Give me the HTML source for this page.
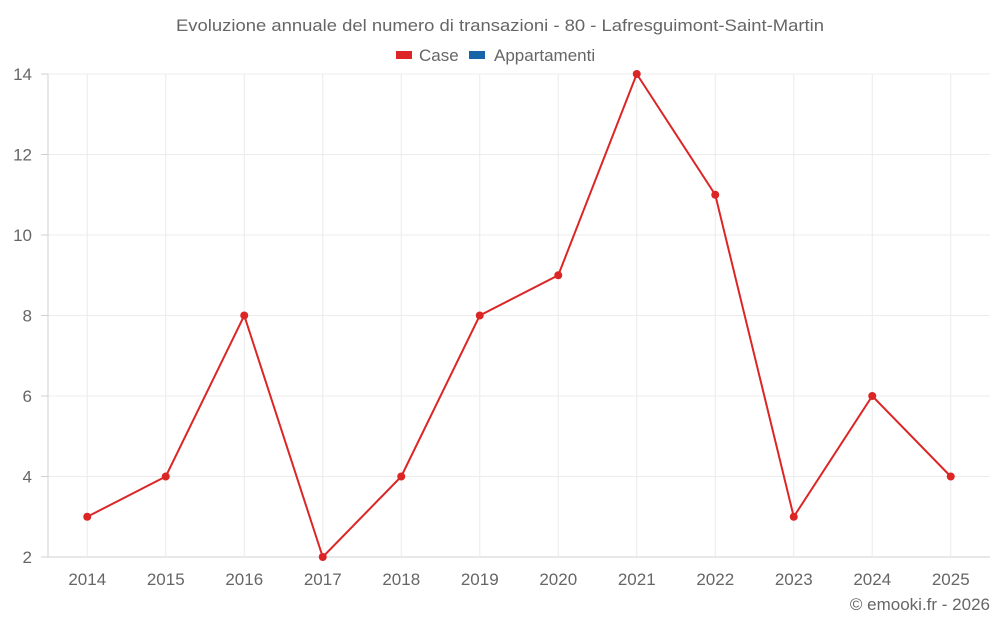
<!DOCTYPE html>
<html><head><meta charset="utf-8"><style>
body{margin:0;background:#fff;}
svg{display:block;font-family:"Liberation Sans",sans-serif;}
</style></head><body>
<svg id="c" width="1000" height="625">
<text x="176" y="31" textLength="648" lengthAdjust="spacingAndGlyphs" font-size="17" fill="#666">Evoluzione annuale del numero di transazioni - 80 - Lafresguimont-Saint-Martin</text>
<g>
<g><rect x="396" y="51" width="16" height="8" fill="#dc2626"/><text x="419" y="61" font-size="17" fill="#666">Case</text></g>
<g><rect x="469" y="51" width="16" height="8" fill="#1565a8"/><text x="494" y="61" font-size="17" fill="#666">Appartamenti</text></g>
</g>
<g id="grid"></g><g id="axes"></g><g id="series"></g>
<text x="990" y="610" text-anchor="end" font-size="17" fill="#666">© emooki.fr - 2026</text>
</svg>
<script>
const years=["2014","2015","2016","2017","2018","2019","2020","2021","2022","2023","2024","2025"];
const caseValues=[3,4,8,2,4,8,9,14,11,3,6,4];
const yTicks=[2,4,6,8,10,12,14];
const NS="http://www.w3.org/2000/svg";
const L=48,R=990,T=74,B=557,yMin=2,yMax=14;
const bw=(R-L)/years.length;
const x=i=>L+bw*(i+0.5);
const y=v=>B-(v-yMin)/(yMax-yMin)*(B-T);
function mk(t,a,p){const e=document.createElementNS(NS,t);for(const k in a)e.setAttribute(k,a[k]);p.appendChild(e);return e;}
const g=document.getElementById('grid'),ax=document.getElementById('axes'),s=document.getElementById('series');
yTicks.forEach(v=>{
 const l=mk('line',{x1:L,x2:R,y1:y(v),y2:y(v),stroke:v===yMin?'#d0d0d0':'#ececec'},g);
 
 
 mk('line',{x1:41,x2:L,y1:y(v),y2:y(v),stroke:'#d0d0d0'},ax);
 const t=mk('text',{x:32,y:y(v)+6,'text-anchor':'end','font-size':17,fill:'#666'},ax);
 t.textContent=v;
 
 
});
years.forEach((yr,i)=>{
 const l=mk('line',{x1:x(i),x2:x(i),y1:T,y2:B,stroke:'#ececec'},g);
 
 
 const t=mk('text',{x:x(i),y:585,'text-anchor':'middle','font-size':17,fill:'#666'},ax);
 t.textContent=yr;
 
 
});
mk('line',{x1:L,x2:L,y1:T,y2:B,stroke:'#d0d0d0'},ax);
const p=mk('polyline',{points:caseValues.map((v,i)=>x(i)+','+y(v)).join(' '),fill:'none',stroke:'#dc2626','stroke-width':2},s);


caseValues.forEach((v,i)=>{
 const c=mk('circle',{cx:x(i),cy:y(v),r:4,fill:'#dc2626'},s);
 
 
});
</script>
</body></html>
